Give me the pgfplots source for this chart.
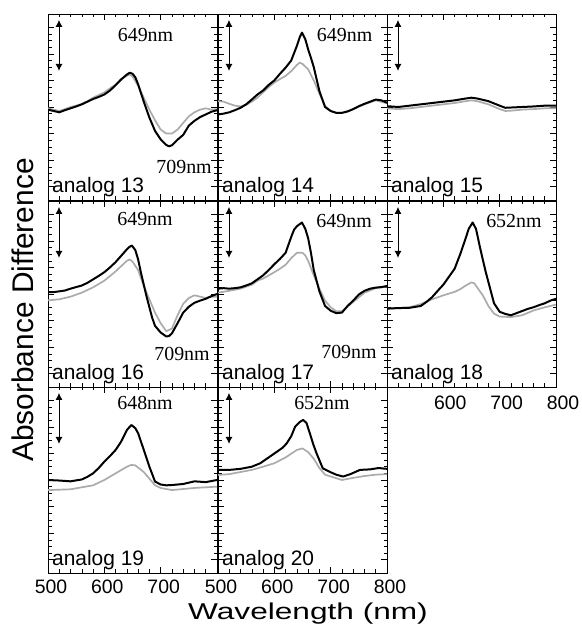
\documentclass[border=0pt]{standalone}
\usepackage{fontspec}
\setmainfont{Liberation Sans}
\newfontfamily\serifnm{Liberation Serif}
\usepackage{pgfplots}
\pgfplotsset{compat=1.18}
\usetikzlibrary{arrows.meta,calc}

\pgfplotsset{
  panel/.style={scale only axis, width=169bp, height=186bp,
    xmin=500, xmax=800, ymin=0, ymax=7,
    xtick={500,600,700,800}, minor x tick num=4,
    ytick={0.5,1.5,2.5,3.5,4.5,5.5,6.5}, minor y tick num=3,
    xmajorticks=true, xminorticks=true,
    xticklabels={,,,}, yticklabels={,,,,,,},
    anchor=south west,
    xticklabel style={font=\fontsize{19.5}{20}\selectfont, yshift=-3.5bp, xshift=3bp},
  },
  every axis/.append style={
    major tick length=6bp, minor tick length=3.5bp,
    every tick/.append style={black, line width=0.7pt},
    every minor tick/.append style={black, line width=0.5pt},
    every major x tick/.append style={black, line width=0.7pt},
    every minor x tick/.append style={black, line width=0.5pt},
  },
  blk/.style={black, line width=2pt, line join=round, mark=none},
  gry/.style={black!33, line width=1.7pt, line join=round, mark=none},
}
\newcommand{\arr}{\draw[line width=0.9pt, {Latex[length=7bp,width=7bp]}-{Latex[length=7bp,width=7bp]}] (rel axis cs:0.065,0.968) -- (rel axis cs:0.065,0.694);}
\newcommand{\alab}[1]{\node[anchor=base west, inner sep=0pt, font=\fontsize{21}{22}\selectfont] at ($(rel axis cs:0,0)+(4bp,7bp)$) {analog #1};}
\newcommand{\nmlab}[3]{\node[anchor=center, inner sep=0pt, font=\serifnm\fontsize{20}{21}\selectfont] at (rel axis cs:#1,#2) {#3};}

\begin{document}
\begin{tikzpicture}
\path[use as bounding box] (0,0) rectangle (582bp,629bp);

% ---------- analog 13
\begin{axis}[panel, at={(48bp,429bp)}]
\addplot[gry] coordinates {(500,3.45)(510,3.40)(520,3.35)(530,3.42)(540,3.50)(550,3.55)(560,3.62)(570,3.72)(580,3.85)(590,3.95)(600,4.05)(610,4.20)(620,4.35)(630,4.55)(640,4.68)(645,4.72)(650,4.65)(660,4.30)(670,3.85)(680,3.40)(690,3.00)(700,2.65)(710,2.50)(720,2.50)(730,2.65)(740,2.90)(750,3.15)(760,3.30)(770,3.40)(780,3.45)(790,3.40)(800,3.42)};
\addplot[blk] coordinates {(500,3.40)(510,3.35)(520,3.30)(530,3.38)(540,3.45)(550,3.52)(560,3.60)(570,3.70)(580,3.80)(590,3.88)(600,3.97)(610,4.12)(620,4.32)(630,4.54)(640,4.72)(645,4.79)(650,4.75)(655,4.62)(660,4.35)(670,3.70)(680,3.10)(690,2.60)(700,2.28)(710,2.07)(715,2.02)(720,2.06)(730,2.27)(740,2.45)(750,2.80)(760,2.98)(770,3.12)(780,3.22)(790,3.32)(800,3.38)};
\arr \alab{13}
\nmlab{0.577}{0.887}{649nm}
\nmlab{0.805}{0.177}{709nm}
\end{axis}

% ---------- analog 14
\begin{axis}[panel, at={(218bp,429bp)}]
\addplot[gry] coordinates {(500,3.72)(510,3.70)(520,3.62)(530,3.55)(540,3.52)(550,3.58)(560,3.70)(570,3.85)(580,4.05)(590,4.25)(600,4.42)(610,4.55)(620,4.67)(630,4.85)(640,5.08)(645,5.17)(650,5.12)(660,4.92)(670,4.50)(680,4.00)(690,3.55)(700,3.34)(710,3.28)(720,3.28)(740,3.42)(760,3.60)(780,3.75)(800,3.64)};
\addplot[blk] coordinates {(500,3.22)(510,3.25)(520,3.30)(530,3.38)(540,3.47)(550,3.60)(560,3.78)(570,3.97)(580,4.12)(590,4.33)(600,4.50)(610,4.75)(620,4.98)(630,5.25)(640,5.80)(645,6.12)(649,6.30)(655,6.05)(660,5.67)(665,5.35)(670,5.00)(680,4.10)(690,3.50)(700,3.35)(710,3.28)(720,3.28)(730,3.33)(740,3.42)(750,3.53)(760,3.62)(770,3.70)(780,3.78)(790,3.75)(800,3.66)};
\arr \alab{14}
\nmlab{0.749}{0.887}{649nm}
\end{axis}

% ---------- analog 15
\begin{axis}[panel, at={(387bp,429bp)}]
\addplot[gry] coordinates {(500,3.45)(520,3.42)(540,3.45)(560,3.50)(580,3.55)(600,3.60)(620,3.65)(640,3.72)(650,3.75)(660,3.72)(680,3.60)(700,3.42)(710,3.35)(720,3.36)(740,3.40)(760,3.42)(780,3.45)(800,3.45)};
\addplot[blk] coordinates {(500,3.53)(520,3.50)(540,3.55)(560,3.60)(580,3.65)(600,3.70)(620,3.75)(640,3.82)(650,3.85)(660,3.82)(680,3.72)(700,3.55)(710,3.47)(720,3.48)(740,3.50)(760,3.52)(780,3.55)(800,3.55)};
\arr \alab{15}
\end{axis}

% ---------- analog 16
\begin{axis}[panel, at={(48bp,242bp)}]
\addplot[gry] coordinates {(500,3.26)(520,3.30)(540,3.40)(560,3.55)(580,3.75)(600,4.00)(620,4.35)(630,4.55)(640,4.75)(645,4.80)(650,4.72)(660,4.40)(670,3.80)(680,3.30)(690,2.80)(700,2.40)(710,2.10)(720,2.20)(730,2.70)(740,3.13)(750,3.35)(760,3.45)(770,3.40)(780,3.35)(790,3.40)(800,3.40)};
\addplot[blk] coordinates {(500,3.57)(510,3.57)(520,3.60)(530,3.63)(540,3.70)(550,3.76)(560,3.82)(570,3.92)(580,4.05)(590,4.18)(600,4.32)(610,4.50)(620,4.70)(630,4.94)(640,5.18)(645,5.28)(649,5.32)(655,5.15)(660,4.80)(665,4.30)(670,3.85)(675,3.40)(680,3.00)(685,2.60)(690,2.30)(700,2.05)(710,1.90)(715,1.92)(720,2.02)(730,2.40)(740,2.80)(750,3.02)(760,3.17)(770,3.25)(780,3.32)(790,3.42)(800,3.50)};
\arr \alab{16}
\nmlab{0.574}{0.904}{649nm}
\nmlab{0.793}{0.176}{709nm}
\end{axis}

% ---------- analog 17
\begin{axis}[panel, at={(218bp,242bp)}]
\addplot[gry] coordinates {(500,3.55)(520,3.62)(540,3.70)(560,3.85)(570,4.00)(580,4.08)(590,4.20)(600,4.32)(610,4.45)(620,4.60)(630,4.85)(640,5.05)(650,5.05)(655,4.95)(660,4.75)(670,4.20)(680,3.70)(690,3.25)(700,3.00)(710,2.85)(720,2.85)(740,3.20)(760,3.55)(780,3.72)(800,3.78)};
\addplot[blk] coordinates {(500,3.70)(510,3.72)(520,3.70)(530,3.72)(540,3.75)(550,3.82)(560,3.90)(570,4.05)(580,4.20)(590,4.40)(600,4.62)(610,4.82)(620,5.05)(630,5.65)(635,5.92)(640,6.05)(649,6.19)(655,5.95)(660,5.60)(665,5.05)(670,4.40)(680,3.60)(690,3.05)(700,2.87)(710,2.78)(720,2.80)(730,3.05)(740,3.25)(750,3.48)(760,3.62)(770,3.70)(780,3.74)(790,3.76)(800,3.80)};
\arr \alab{17}
\nmlab{0.746}{0.893}{649nm}
\nmlab{0.775}{0.187}{709nm}
\end{axis}

% ---------- analog 18
\begin{axis}[panel, at={(387bp,242bp)}, xticklabels={,600,700,800},
  xticklabel style={yshift=-2bp, xshift=4bp}]
\addplot[gry] coordinates {(500,2.95)(520,2.97)(540,3.00)(560,3.12)(580,3.30)(600,3.45)(620,3.58)(630,3.68)(640,3.82)(650,3.94)(655,3.90)(660,3.75)(670,3.45)(680,3.05)(690,2.76)(700,2.65)(720,2.63)(740,2.70)(760,2.88)(780,3.00)(800,3.10)};
\addplot[blk] coordinates {(500,2.95)(520,2.97)(540,2.98)(560,3.05)(570,3.20)(580,3.38)(590,3.62)(600,3.85)(610,4.15)(620,4.45)(630,5.00)(640,5.62)(645,5.95)(652,6.19)(658,5.95)(665,5.26)(670,4.80)(675,4.35)(680,3.95)(690,3.15)(700,2.83)(710,2.75)(720,2.70)(730,2.78)(740,2.86)(750,2.94)(760,3.00)(770,3.08)(780,3.15)(790,3.25)(800,3.32)};
\arr \alab{18}
\nmlab{0.751}{0.893}{652nm}
\end{axis}

% ---------- analog 19
\begin{axis}[panel, at={(48bp,56bp)}, xticklabels={500,600,700,}]
\addplot[gry] coordinates {(500,3.12)(540,3.15)(580,3.30)(600,3.50)(620,3.75)(640,4.00)(648,4.07)(655,4.05)(670,3.80)(680,3.55)(690,3.30)(700,3.20)(720,3.12)(760,3.20)(800,3.25)};
\addplot[blk] coordinates {(500,3.50)(520,3.48)(540,3.45)(560,3.52)(570,3.62)(580,3.75)(590,3.95)(600,4.19)(610,4.40)(620,4.63)(630,4.95)(640,5.38)(648,5.57)(655,5.45)(660,5.26)(668,4.76)(680,4.00)(690,3.44)(700,3.33)(710,3.30)(720,3.31)(740,3.35)(760,3.45)(780,3.42)(800,3.50)};
\arr \alab{19}
\nmlab{0.574}{0.914}{648nm}
\end{axis}

% ---------- analog 20
\begin{axis}[panel, at={(218bp,56bp)}, xticklabels={500,600,700,800}]
\addplot[gry] coordinates {(500,3.69)(520,3.72)(540,3.80)(560,3.88)(580,4.00)(600,4.13)(620,4.35)(640,4.63)(650,4.69)(660,4.55)(670,4.30)(680,3.95)(690,3.70)(705,3.60)(720,3.50)(740,3.58)(760,3.65)(780,3.70)(800,3.72)};
\addplot[blk] coordinates {(500,3.88)(520,3.88)(540,3.92)(560,4.00)(575,4.13)(590,4.35)(605,4.57)(615,4.72)(622,4.88)(630,5.15)(637,5.51)(645,5.68)(651,5.76)(657,5.65)(663,5.26)(669,4.85)(675,4.50)(686,3.94)(698,3.81)(710,3.70)(722,3.63)(735,3.72)(752,3.88)(770,3.90)(785,3.95)(800,3.92)};
\arr \alab{20}
\nmlab{0.615}{0.914}{652nm}
\end{axis}

% axis labels
\node[rotate=90, anchor=center, inner sep=0pt, font=\fontsize{30}{30}\selectfont] at (23bp,319bp) {Absorbance Difference};
\node[anchor=base, inner sep=0pt] at (308bp,10bp) {\scalebox{1.38}[1]{\fontsize{23}{23}\selectfont Wavelength (nm)}};
\end{tikzpicture}
\end{document}
